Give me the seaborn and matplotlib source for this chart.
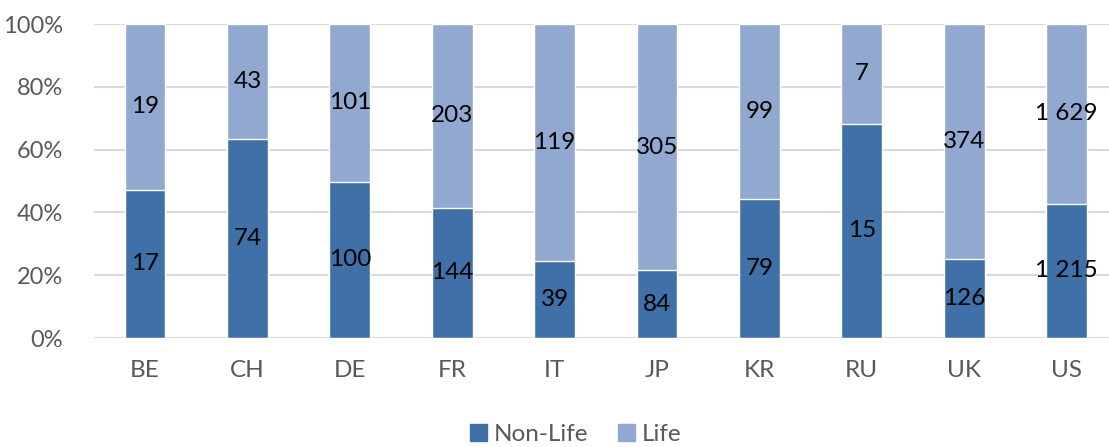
import pandas as pd
import matplotlib
matplotlib.use("Agg")
import matplotlib.pyplot as plt
import seaborn as sns
from matplotlib.patches import Patch
from matplotlib.ticker import PercentFormatter

countries = ["BE", "CH", "DE", "FR", "IT", "JP", "KR", "RU", "UK", "US"]
non_life = [17, 74, 100, 144, 39, 84, 79, 15, 126, 1215]
life = [19, 43, 101, 203, 119, 305, 99, 7, 374, 1629]

DARK = "#3F71A8"
LIGHT = "#91A9D0"

sns.set_theme(style="white")
plt.rcParams["font.family"] = ["Lato", "DejaVu Sans"]

df = pd.DataFrame({"country": countries, "non_life": non_life, "life": life})
df["total"] = df.non_life + df.life
df["nl_share"] = df.non_life / df.total * 100
df["full"] = 100.0


def fmt(v):
    return f"{v:,}".replace(",", " ")


fig = plt.figure(figsize=(11.09, 4.47), dpi=100)
ax = fig.add_axes([0.0846, 0.2438, 0.9233, 0.7025])

sns.barplot(data=df, x="country", y="full", color=LIGHT, width=0.4,
            saturation=1, ax=ax, zorder=2)
sns.barplot(data=df, x="country", y="nl_share", color=DARK, width=0.4,
            saturation=1, ax=ax, zorder=3)

for i, row in df.iterrows():
    ax.text(i, row.nl_share / 2, fmt(row.non_life), ha="center", va="center",
            fontsize=17.5, color="black", zorder=4)
    ax.text(i, row.nl_share + (100 - row.nl_share) / 2, fmt(row.life),
            ha="center", va="center", fontsize=17.5, color="black", zorder=4)

ax.set_ylim(0, 100)
ax.set_xlim(-0.5, len(countries) - 0.5)
ax.set_yticks(range(0, 101, 20))
ax.yaxis.set_major_formatter(PercentFormatter(decimals=0))
ax.grid(axis="y", color="#D9D9D9", linewidth=1.5, zorder=0)
ax.set_axisbelow(True)
for s in ax.spines.values():
    s.set_visible(False)
ax.set_xlabel("")
ax.set_ylabel("")
ax.tick_params(axis="both", length=0, labelcolor="#595959")
ax.tick_params(axis="x", pad=16, labelsize=17.5)
ax.tick_params(axis="y", pad=22, labelsize=17)

handles = [Patch(color=DARK, label="Non-Life"), Patch(color=LIGHT, label="Life")]
fig.legend(handles=handles, loc="lower center", bbox_to_anchor=(0.519, -0.045),
           ncol=2, frameon=False, fontsize=17.5, handlelength=0.7,
           handleheight=0.7, handletextpad=0.3, columnspacing=1.2,
           labelcolor="#595959")

fig.savefig("out.png", dpi=100)
